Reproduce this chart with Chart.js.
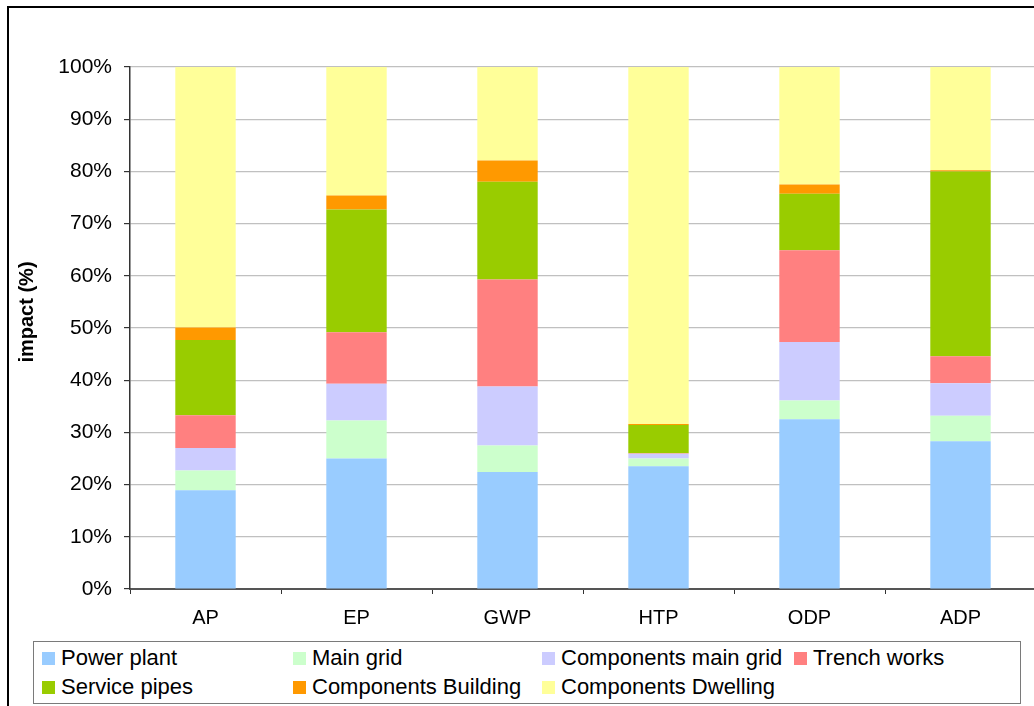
<!DOCTYPE html>
<html>
<head>
<meta charset="utf-8">
<script src="https://cdn.jsdelivr.net/npm/chart.js@4.4.1/dist/chart.umd.min.js"></script>
<style>
  html, body { margin: 0; padding: 0; width: 1034px; height: 706px; overflow: hidden; background: #fff; font-family: 'Liberation Sans', Arial, sans-serif; }
  #frame { position: absolute; left: 7px; top: 6px; width: 1100px; height: 800px; border: 2px solid #000; box-sizing: border-box; }
  #wrap { position: absolute; left: 0; top: 0; width: 1046px; height: 634px; }
  #legend { position: absolute; left: 33px; top: 641px; width: 988px; height: 63px; border: 1px solid #7a7a7a; box-sizing: border-box; background: #fff; }
  .sw { position: absolute; width: 13px; height: 13px; }
  .lbl { position: absolute; font-size: 22px; line-height: 22px; color: #000; white-space: nowrap; }
</style>
</head>
<body>
<div id="frame"></div>
<div id="wrap"><canvas id="chart"></canvas></div>
<div id="legend"></div>
<script>
// categories and stacked shares (%)
const categories = ['AP', 'EP', 'GWP', 'HTP', 'ODP', 'ADP'];
const powerPlant = [18.9, 25.0, 22.4, 23.5, 32.5, 28.3];
const mainGrid = [3.8, 7.3, 5.1, 1.5, 3.6, 4.9];
const componentsMainGrid = [4.3, 7.0, 11.3, 0.9, 11.2, 6.2];
const trenchWorks = [6.3, 9.9, 20.5, 0.1, 17.6, 5.2];
const servicePipes = [14.4, 23.5, 18.7, 5.4, 10.8, 35.4];
const componentsBuilding = [2.4, 2.7, 4.1, 0.2, 1.8, 0.2];
const componentsDwelling = [49.9, 24.6, 17.9, 68.4, 22.5, 19.8];

const seriesNames = ['Power plant', 'Main grid', 'Components main grid', 'Trench works', 'Service pipes', 'Components Building', 'Components Dwelling'];
const seriesColors = ['#99ccff', '#ccffcc', '#ccccff', '#ff8080', '#99cc00', '#ff9900', '#ffff99'];
const seriesValues = [powerPlant, mainGrid, componentsMainGrid, trenchWorks, servicePipes, componentsBuilding, componentsDwelling];
const yTicks = [0, 10, 20, 30, 40, 50, 60, 70, 80, 90, 100];

const datasets = seriesNames.map((name, i) => ({
	label: name,
	data: seriesValues[i],
	backgroundColor: seriesColors[i],
	borderWidth: 0,
	barPercentage: 0.4,
	categoryPercentage: 1.0,
}));

// y axis title drawn by hand so it can sit a bit above the axis middle, like the original
const axisTitle = {
	id: 'axisTitle',
	afterDraw(chart) {
		const ctx = chart.ctx;
		ctx.save();
		ctx.translate(27, 312);
		ctx.rotate(-Math.PI / 2);
		ctx.font = "bold 20px 'Liberation Sans', Arial, sans-serif";
		ctx.fillStyle = '#000';
		ctx.textAlign = 'center';
		ctx.textBaseline = 'middle';
		ctx.fillText('impact (%)', 0, 0);
		ctx.restore();
	},
};

new Chart(document.getElementById('chart'), {
	type: 'bar',
	data: { labels: categories, datasets: datasets },
	plugins: [axisTitle],
	options: {
		responsive: true,
		maintainAspectRatio: false,
		animation: false,
		layout: { padding: { top: 67, right: 10, left: 0, bottom: 0 } },
		plugins: { legend: { display: false }, tooltip: { enabled: false } },
		scales: {
			x: {
				stacked: true,
				grid: { display: true, drawOnChartArea: false, drawTicks: true, tickLength: 5, tickColor: '#333', offset: true },
				border: { display: true, color: '#555', width: 2 },
				ticks: { color: '#000', padding: 12, font: { family: "'Liberation Sans', Arial, sans-serif", size: 20 } },
				afterFit(scale) { scale.height = 45; },
			},
			y: {
				stacked: true,
				min: 0,
				max: 100,
				afterBuildTicks(scale) { scale.ticks = yTicks.map((v) => ({ value: v })); },
				grid: { color: '#c0c0c0', lineWidth: 1.2, tickLength: 6, tickColor: '#333' },
				border: { display: true, color: '#333', width: 1.5 },
				ticks: {
					color: '#000',
					padding: 12,
					font: { family: "'Liberation Sans', Arial, sans-serif", size: 21 },
					callback: (v) => v + '%',
				},
				afterFit(scale) { scale.width = 130; },
			},
		},
	},
});

// legend laid out in the same 4 x 2 grid as the original
const legendCols = [8, 259, 508, 760];
const legendRows = [16, 45];
const legend = document.getElementById('legend');
seriesNames.forEach((name, i) => {
	const x = legendCols[i % 4];
	const y = legendRows[Math.floor(i / 4)];
	const sw = document.createElement('div');
	sw.className = 'sw';
	sw.style.left = x + 'px';
	sw.style.top = (y - 6) + 'px';
	sw.style.background = seriesColors[i];
	legend.appendChild(sw);
	const lbl = document.createElement('div');
	lbl.className = 'lbl';
	lbl.style.left = (x + 19) + 'px';
	lbl.style.top = (y - 11) + 'px';
	lbl.textContent = name;
	legend.appendChild(lbl);
});
</script>
</body>
</html>
